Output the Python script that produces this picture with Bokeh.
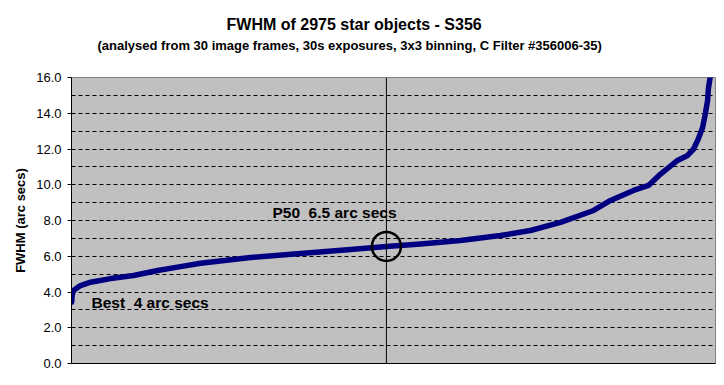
from bokeh.plotting import figure
from bokeh.models import Range1d, Title, Span, SingleIntervalTicker, FixedTicker, NumeralTickFormatter
from bokeh.core.properties import value
from bokeh.embed import file_html
from bokeh.resources import INLINE

# star rank (sorted by FWHM) and FWHM in arc secs
star_index = [1, 3, 9, 42, 89, 182, 289, 401, 494, 601, 834, 1067, 1300, 1467, 1626, 1812,
              1998, 2138, 2278, 2432, 2511, 2618, 2688, 2744, 2823, 2870, 2898, 2921, 2940,
              2953, 2963, 2967, 2975]
fwhm = [3.43, 3.8, 4.08, 4.36, 4.55, 4.75, 4.92, 5.2, 5.39, 5.61, 5.93, 6.15, 6.38, 6.55, 6.69, 6.88,
        7.16, 7.44, 7.9, 8.56, 9.12, 9.68, 9.96, 10.6, 11.36, 11.64, 12.0, 12.6, 13.2,
        14.0, 14.7, 15.4, 16.0]
p50_index = 1467
p50_value = 6.55
y_ticks = [0, 2, 4, 6, 8, 10, 12, 14, 16]

FONT = "Liberation Sans"

p = figure(width=724, height=385, output_backend="svg", toolbar_location=None,
           x_range=Range1d(0, 3000), y_range=Range1d(0, 16),
           min_border_left=71, min_border_right=9, min_border_top=77, min_border_bottom=22,
           background_fill_color="#C0C0C0", border_fill_color="white",
           outline_line_color="#808080", outline_line_width=1)
p.title = None

spacer = Title(text=" ", text_font=FONT, text_font_size="10px", standoff=11)
sub = Title(text="(analysed from 30 image frames, 30s exposures, 3x3 binning, C Filter #356006-35)",
            align="left", text_font=FONT, text_font_size="13px", text_font_style="bold",
            text_color="black", offset=26, standoff=2)
main = Title(text="FWHM of 2975 star objects - S356", align="left", text_font=FONT,
             text_font_size="16px", text_font_style="bold", text_color="black", offset=155, standoff=4)
p.add_layout(spacer, "above")
p.add_layout(sub, "above")
p.add_layout(main, "above")

# grid
p.xgrid.visible = False
p.ygrid.ticker = SingleIntervalTicker(interval=1)
p.ygrid.grid_line_color = "black"
p.ygrid.grid_line_dash = "4 3"
p.ygrid.grid_line_width = 1

# y axis
p.yaxis.ticker = FixedTicker(ticks=y_ticks)
p.yaxis.formatter = NumeralTickFormatter(format="0.0")
p.yaxis.axis_label = "FWHM (arc secs)"
p.yaxis.axis_label_text_font = FONT
p.yaxis.axis_label_text_font_size = "13px"
p.yaxis.axis_label_text_font_style = "bold"
p.yaxis.axis_label_text_color = "black"
p.yaxis.axis_label_standoff = 5
p.yaxis.major_label_text_font = FONT
p.yaxis.major_label_text_font_size = "13px"
p.yaxis.major_label_text_color = "black"
p.yaxis.major_label_standoff = 6
p.yaxis.major_tick_out = 4
p.yaxis.major_tick_in = 0
p.yaxis.minor_tick_line_color = None
p.yaxis.axis_line_color = "black"
p.yaxis.major_tick_line_color = "black"

# x axis: line only
p.xaxis.ticker = FixedTicker(ticks=[])
p.xaxis.major_tick_line_color = None
p.xaxis.minor_tick_line_color = None
p.xaxis.major_label_text_font_size = "0px"
p.xaxis.axis_line_color = "black"

# curve
p.line(star_index, fwhm, line_color="#000080", line_width=5.5, line_join="round", line_cap="round")

# P50 marker
p.add_layout(Span(location=p50_index, dimension="height", line_color="black", line_width=1))
p.scatter([p50_index], [p50_value], marker="circle", size=29, fill_color=None,
          line_color="black", line_width=2.5)

p.text([936], [8.45], text=["P50\u00a0 6.5 arc secs"], text_font=value(FONT), text_font_size="15.5px",
       text_font_style="bold", text_color="black", text_align="left", text_baseline="middle")
p.text([93], [3.41], text=["Best\u00a0 4 arc secs"], text_font=value(FONT), text_font_size="15.5px",
       text_font_style="bold", text_color="black", text_align="left", text_baseline="middle")

open("out.html", "w").write(file_html(p, INLINE))
